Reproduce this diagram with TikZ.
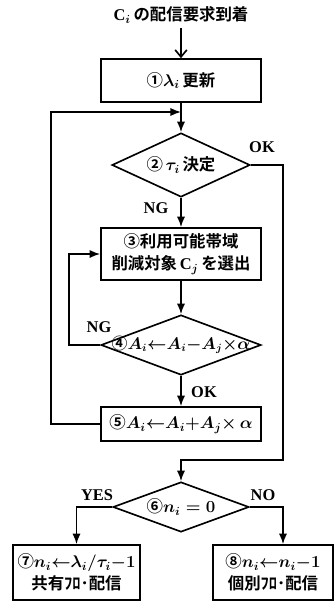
\documentclass[tikz,border=0pt]{standalone}
\usepackage{fontspec}
\usepackage{amsmath}
\usetikzlibrary{shapes.geometric,arrows.meta,calc}
\setmainfont{Liberation Serif}
\newfontfamily\jp{Noto Sans CJK JP}[BoldFont={* Bold}]
\newcommand\jptext{\fontsize{14}{19}\selectfont\jp\bfseries\boldmath}
\newcommand\lar{\mathord{\leftarrow}}
\newcommand\mns{\mathord{-}}
\newcommand\tms{\mathord{\times}}
\begin{document}
\begin{tikzpicture}[x=0.03cm,y=-0.03cm,line width=1.4pt,
  box/.style={draw,rectangle,inner sep=0pt,align=center,font=\jptext},
  dia/.style={draw,diamond,inner sep=0pt,font=\jptext},
  arr/.style={-{Latex[length=9pt,width=7pt]}},
  lab/.style={font=\fontsize{14}{16}\selectfont\bfseries}]
\useasboundingbox (0,0) rectangle (336,602);
\node[font=\jptext] (t) at (181,15) {{\rmfamily C}$_i$\,の配信要求到着};
\node[box,minimum width=4.8cm,minimum height=1.29cm] (b1) at (181,80.5) {①$\lambda_i$\,更新};
\coordinate (j1) at (181,112);
\node[dia,minimum width=4.14cm,minimum height=1.92cm] (d2) at (181,165) {\makebox[0pt]{②\,$\tau_i$\,決定}};
\node[box,minimum width=4.8cm,minimum height=1.56cm] (b3) at (181,254) {③利用可能帯域\\削減対象\,{\rmfamily C}$_j$\,を選出};
\node[dia,minimum width=4.8cm,minimum height=1.8cm] (d4) at (181,345) {\makebox[0pt]{\fontsize{13.5}{16}\selectfont ④$A_i\lar A_i\mns A_j\tms\alpha$}};
\node[box,minimum width=4.8cm,minimum height=1.02cm] (b5) at (181,424) {⑤$A_i\lar A_i{+}A_j\tms\,\alpha$};
\coordinate (ok1) at (283,460);
\node[dia,minimum width=4.08cm,minimum height=1.5cm] (d6) at (181,507) {\makebox[0pt]{⑥$n_i=0$}};
\node[box,minimum width=3.81cm,minimum height=1.65cm] (b7) at (76.5,572.5) {⑦$n_i\lar\lambda_i/\tau_i\mns1$\\共有ﾌﾛ･配信};
\node[box,minimum width=3.6cm,minimum height=1.65cm] (b8) at (273,572.5) {⑧$n_i\lar n_i\mns1$\\個別ﾌﾛ･配信};
% connectors
\draw[-{Straight Barb[length=6pt,width=10pt]}] (t) -- (b1);
\draw[arr] (b1) -- (d2);
\draw[arr] (b5.west) -- ++(-49,0) |- (j1);
\draw[arr] (d2) -- (b3);
\draw[arr] (d2.east) -| (ok1) -- (ok1 -| d6.north) -- (d6.north);
\draw[arr] (b3) -- (d4);
\draw[arr] (d4.west) -- ++(-31,0) |- (b3.west);
\draw[arr] (d4) -- (b5);
\draw[arr] (d6.west) -| (b7.north);
\draw[arr] (d6.east) -| (b8.north -| ok1);
% labels
\node[lab] (lng1) at (156,208) {NG};
\node[lab] (lok1) at (262,147) {OK};
\node[lab] (lng2) at (99,327) {NG};
\node[lab] (lok2) at (204,392) {OK};
\node[lab] (lyes) at (97,495) {YES};
\node[lab] (lno) at (263,495) {NO};
\end{tikzpicture}
\end{document}
